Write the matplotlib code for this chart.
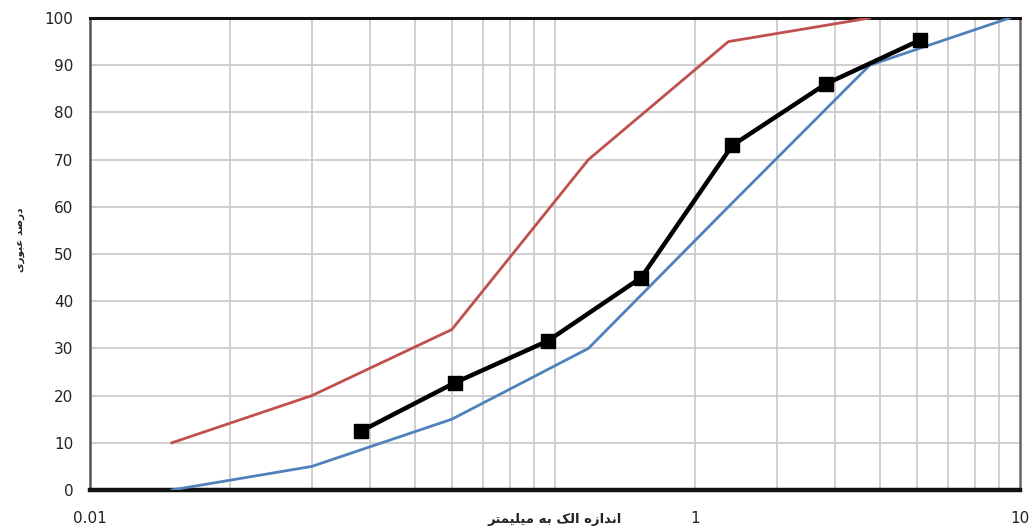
import matplotlib
matplotlib.use('Agg')
import matplotlib.pyplot as plt
import numpy as np

# envelope (spec limits) - sieve sizes in mm
env_sieve = [0.15, 0.3, 0.6, 1.18, 2.36, 4.75]
upper_limit = [10, 20, 34, 70, 95, 100]
low_sieve = [0.15, 0.3, 0.6, 1.18, 2.36, 4.75, 9.5]
lower_limit = [0, 5, 15, 30, 60, 90, 100]

# sample grading
sample_sieve = [0.075, 0.15, 0.3, 0.6, 1.18, 2.36, 4.75]
sample_pass = [12.5, 22.7, 31.6, 45, 73, 86, 95.3]

y_ticks = list(range(0, 101, 10))
x_labels = ['0.01', '1', '10']

x_title = 'اندازه الک به میلیمتر'
y_title = 'درصد عبوری'

# matplotlib has no arabic shaping, so do a small one by hand
forms = {
    'ا': ('\uFE8D', '\uFE8E'),
    'د': ('\uFEA9', '\uFEAA'),
    'ر': ('\uFEAD', '\uFEAE'),
    'ز': ('\uFEAF', '\uFEB0'),
    'و': ('\uFEED', '\uFEEE'),
    'ب': ('\uFE8F', '\uFE90', '\uFE91', '\uFE92'),
    'ت': ('\uFE95', '\uFE96', '\uFE97', '\uFE98'),
    'ص': ('\uFEB9', '\uFEBA', '\uFEBB', '\uFEBC'),
    'ع': ('\uFEC9', '\uFECA', '\uFECB', '\uFECC'),
    'ل': ('\uFEDD', '\uFEDE', '\uFEDF', '\uFEE0'),
    'م': ('\uFEE1', '\uFEE2', '\uFEE3', '\uFEE4'),
    'ن': ('\uFEE5', '\uFEE6', '\uFEE7', '\uFEE8'),
    'ه': ('\uFEE9', '\uFEEA', '\uFEEB', '\uFEEC'),
    'ک': ('\uFB8E', '\uFB8F', '\uFB90', '\uFB91'),
    'ی': ('\uFBFC', '\uFBFD', '\uFBFE', '\uFBFF'),
}


def shape(txt):
    out = []
    n = len(txt)
    for i, c in enumerate(txt):
        if c not in forms:
            out.append(c)
            continue
        f = forms[c]
        prev_j = i > 0 and txt[i-1] in forms and len(forms[txt[i-1]]) == 4
        next_j = i < n-1 and txt[i+1] in forms and len(f) == 4
        if prev_j and next_j:
            out.append(f[3])
        elif prev_j:
            out.append(f[1])
        elif next_j:
            out.append(f[2])
        else:
            out.append(f[0])
    return ''.join(out)[::-1]


plt.rcParams['font.family'] = ['DejaVu Sans']

fig = plt.figure(figsize=(10.35, 5.32), dpi=100)
ax = fig.add_axes([90/1035, 42/532, 930/1035, 472/532])

grid_col = '#cccccc'
ax.set_xscale('log')
ax.set_xlim(0.1, 10)
ax.set_ylim(0, 100)

# vertical grid (2..9 in each decade)
for e in (-1, 0):
    for k in range(1, 10):
        v = k * 10**e
        if v > 0.1:
            ax.axvline(v, color=grid_col, lw=1.3, zorder=0)
ax.set_yticks(y_ticks)
ax.yaxis.grid(True, color=grid_col, lw=1.3, zorder=0)
ax.set_axisbelow(True)

ax.plot(env_sieve, upper_limit, color='#C0504D', lw=2, zorder=3)
ax.plot(low_sieve, lower_limit, color='#4F81BD', lw=2, zorder=3)

ax.set_xticks([0.1, 2, 10])
ax.set_xticklabels(x_labels)
ax.minorticks_off()
ax.tick_params(axis='x', length=0, pad=15, labelsize=11, colors='#222222')
ax.tick_params(axis='y', length=0, pad=12, labelsize=11, colors='#222222')

for s in ['top', 'bottom']:
    ax.spines[s].set_color('#111111')
ax.spines['top'].set_linewidth(2.2)
ax.spines['bottom'].set_linewidth(3.2)
ax.spines['left'].set_color('#555555')
ax.spines['left'].set_linewidth(1.8)
ax.spines['right'].set_color('#666666')
ax.spines['right'].set_linewidth(1.8)

# sample curve on its own log scale 0.01 - 10
ax2 = ax.twiny()
ax2.set_xscale('log')
ax2.set_xlim(0.01, 10)
ax2.set_ylim(0, 100)
ax2.plot(sample_sieve, sample_pass, color='black', lw=3.2, marker='s',
         markersize=10, zorder=5)
ax2.set_xticks([])
ax2.minorticks_off()
for s in ax2.spines.values():
    s.set_visible(False)

fig.text(555/1035, 1 - 519/532, shape(x_title), ha='center', va='center',
         fontsize=9.5, fontweight='bold', color='#222222')
fig.text(20/1035, 1 - 240/532, shape(y_title), ha='center', va='center',
         rotation=90, fontsize=7.5, fontweight='bold', color='#222222')

fig.savefig('out.png', dpi=100)
